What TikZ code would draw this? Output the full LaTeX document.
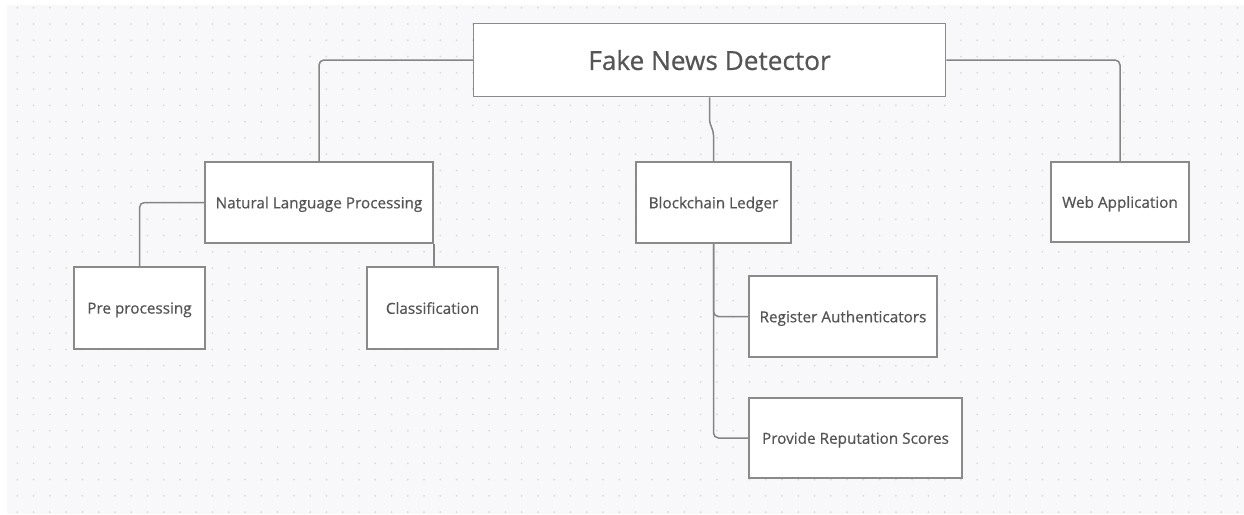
\documentclass[tikz,border=0pt]{standalone}
\usepackage{fontspec}
\setmainfont{Open Sans}[FakeBold=0.6]
\definecolor{canvas}{HTML}{F8F8FA}
\definecolor{griddot}{HTML}{D9D9DE}
\definecolor{edge}{HTML}{8A8A8A}
\definecolor{wire}{HTML}{858585}
\definecolor{label}{HTML}{555555}
\tikzset{
  box/.style={draw=edge, line width=1.5pt, fill=white, rectangle, inner sep=0pt,
    text=label, text depth=0pt, font=\fontsize{15.3}{18}\selectfont},
  titlebox/.style={box, font=\fontsize{26.2}{30}\selectfont},
  link/.style={draw=wire, line width=1.5pt, rounded corners=5pt},
}
\begin{document}
\begin{tikzpicture}[x=1pt, y=-1pt]
  % page and dotted canvas
  \useasboundingbox (0,0) rectangle (1244,514);
  \fill[white] (0,0) rectangle (1244,514);
  \fill[canvas] (7,5) rectangle (1244,514);
  \foreach \i in {0,...,75} {
    \foreach \j in {-1,...,30} {
      \fill[griddot] ({17.3+16.27*\i},{24+16.27*\j}) circle (1pt);
    }
  }

  % boxes
  \node[titlebox, minimum width=472pt, minimum height=73pt] (root) at (709.5,60) {Fake News Detector};
  \node[box, minimum width=228pt, minimum height=81pt] (nlp) at (319,202.5) {Natural Language Processing};
  \node[box, minimum width=155pt, minimum height=81pt] (bc) at (713.5,202.5) {Blockchain Ledger};
  \node[box, minimum width=138pt, minimum height=80pt] (web) at (1120,202) {Web Application};
  \node[box, minimum width=131pt, minimum height=82pt] (pre) at (139.5,308) {Pre processing};
  \node[box, minimum width=131pt, minimum height=82pt] (cls) at (432.5,308) {Classification};
  \node[box, minimum width=188pt, minimum height=81pt] (reg) at (843,316.5) {Register Authenticators};
  \node[box, minimum width=213pt, minimum height=80pt] (rep) at (855.5,438) {Provide Reputation Scores};

  % connectors
  \draw[link] (root.west) -| (nlp.north);
  \draw[link] (root.east) -| (web.north);
  \draw[link, rounded corners=0pt] (root.south) -- ++(0,22)
      .. controls ++(0,6) and ++(0,-6) .. ++(4,16) -- (bc.north);
  \draw[link] (nlp.west) -| (pre.north);
  \draw[link] (nlp.south east) -- (nlp.south east |- cls.north);
  \draw[link] (bc.south) |- (reg.west);
  \draw[link] (bc.south) |- (rep.west);
\end{tikzpicture}
\end{document}
